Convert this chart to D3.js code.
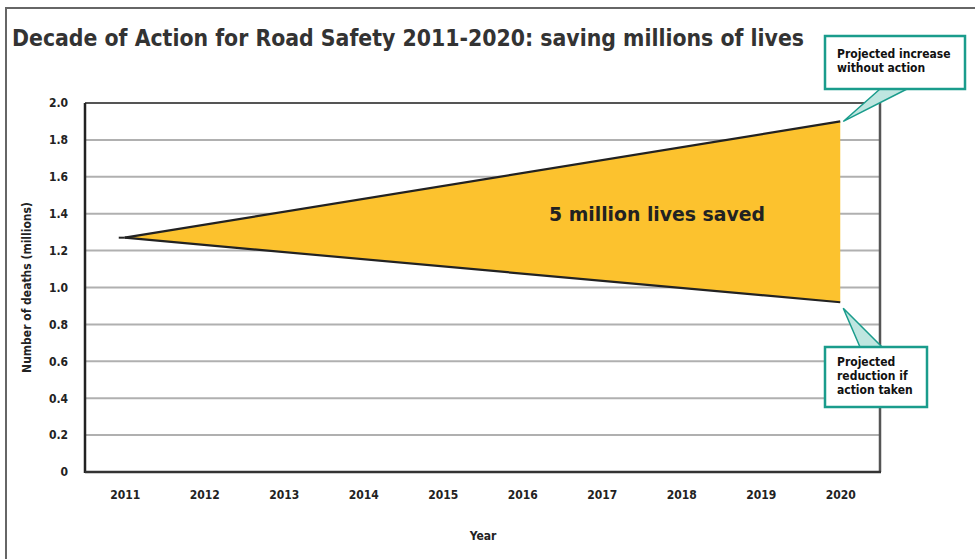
<!DOCTYPE html>
<html><head><meta charset="utf-8">
<script src="https://cdn.jsdelivr.net/npm/d3@7"></script>
<style>body{margin:0;background:#fff}svg{display:block}</style>
</head><body>
<svg id="c" width="975" height="559"></svg>
<script>
const title = "Decade of Action for Road Safety 2011-2020: saving millions of lives";
const years = ["2011","2012","2013","2014","2015","2016","2017","2018","2019","2020"];
const yTicks = [0,0.2,0.4,0.6,0.8,1.0,1.2,1.4,1.6,1.8,2.0];
const seriesYears = ["2011","2020"];
const withoutAction = [1.27, 1.90];
const withAction = [1.27, 0.92];
const annotationText = "5 million lives saved";
const calloutUp = ["Projected increase","without action"];
const calloutDown = ["Projected","reduction if","action taken"];

const svg = d3.select("#c");
const m = {l:85, r:880, t:103, b:472};
const x = d3.scalePoint().domain(years).range([m.l, m.r]).padding(0.5);
const y = d3.scaleLinear().domain([0,2]).range([m.b, m.t]);
const font = "'DejaVu Sans Condensed','DejaVu Sans',sans-serif";

// outer frame
svg.append("rect").attr("x",6).attr("y",8).attr("width",1000).attr("height",600)
  .attr("fill","none").attr("stroke","#666").attr("stroke-width",2);

svg.append("text").attr("x",12).attr("y",46).text(title)
  .attr("font-family",font).attr("font-weight","bold").attr("font-size",23)
  .attr("fill","#333").attr("textLength",792).attr("lengthAdjust","spacingAndGlyphs");

// gridlines
svg.append("g").selectAll("line").data(yTicks.filter(d=>d>0 && d<2)).join("line")
  .attr("x1",m.l).attr("x2",m.r).attr("y1",d=>y(d)).attr("y2",d=>y(d))
  .attr("stroke","#b0b0b0").attr("stroke-width",2);

// area
const pts = seriesYears.map((yr,i)=>({x:x(yr), hi:withoutAction[i], lo:withAction[i]}));
svg.append("path").datum(pts)
  .attr("d", d3.area().x(d=>d.x).y0(d=>y(d.lo)).y1(d=>y(d.hi)))
  .attr("fill","#fcc22e");
const line = d3.line().x(d=>d[0]).y(d=>d[1]);
svg.append("path").attr("d", line(pts.map(d=>[d.x,y(d.hi)]))).attr("fill","none").attr("stroke","#222").attr("stroke-width",2.2);
svg.append("path").attr("d", line(pts.map(d=>[d.x,y(d.lo)]))).attr("fill","none").attr("stroke","#222").attr("stroke-width",2.2);
svg.append("line").attr("x1",x("2011")-6).attr("x2",x("2011")).attr("y1",y(withoutAction[0])).attr("y2",y(withoutAction[0]))
  .attr("stroke","#222").attr("stroke-width",2);

// frame
svg.append("line").attr("x1",m.l).attr("x2",m.r).attr("y1",m.t).attr("y2",m.t).attr("stroke","#555").attr("stroke-width",2);
svg.append("line").attr("x1",m.r).attr("x2",m.r).attr("y1",m.t).attr("y2",m.b).attr("stroke","#555").attr("stroke-width",2.5);
svg.append("line").attr("x1",m.l).attr("x2",m.l).attr("y1",m.t).attr("y2",m.b+1).attr("stroke","#222").attr("stroke-width",2.5);
svg.append("line").attr("x1",m.l).attr("x2",m.r+1).attr("y1",m.b).attr("y2",m.b).attr("stroke","#333").attr("stroke-width",2.5);

// axes
const yAxis = d3.axisLeft(y).tickValues(yTicks).tickSize(0).tickPadding(17)
  .tickFormat(d=> d===0 ? "0" : d3.format(".1f")(d));
const gy = svg.append("g").attr("transform",`translate(${m.l},0)`).call(yAxis);
gy.select(".domain").remove();
gy.selectAll("text").attr("font-family",font).attr("font-weight","bold").attr("font-size",12).attr("fill","#222");

const xAxis = d3.axisBottom(x).tickSize(0).tickPadding(18);
const gx = svg.append("g").attr("transform",`translate(0,${m.b})`).call(xAxis);
gx.select(".domain").remove();
gx.selectAll("text").attr("font-family",font).attr("font-weight","bold").attr("font-size",12).attr("fill","#222");

svg.append("text").attr("transform",`translate(31,${(m.t+m.b)/2}) rotate(-90)`)
  .attr("text-anchor","middle").text("Number of deaths (millions)")
  .attr("font-family",font).attr("font-weight","bold").attr("font-size",12).attr("fill","#222");
svg.append("text").attr("x",483).attr("y",540).attr("text-anchor","middle").text("Year")
  .attr("font-family",font).attr("font-weight","bold").attr("font-size",12).attr("fill","#222");

svg.append("text").attr("x",657).attr("y",221).attr("text-anchor","middle").text(annotationText)
  .attr("font-family",font).attr("font-weight","bold").attr("font-size",20).attr("fill","#222")
  .attr("textLength",216).attr("lengthAdjust","spacingAndGlyphs");

// callouts
const teal = "#1a9c8c", tealFill = "#bfe6e0";
function callout(box, tip, base, lines, y0) {
  svg.append("path").attr("d", `M${base[0]},${base[1]} L${tip[0]},${tip[1]} L${base[2]},${base[1]} Z`)
    .attr("fill",tealFill).attr("stroke",teal).attr("stroke-width",1.5);
  svg.append("rect").attr("x",box[0]).attr("y",box[1]).attr("width",box[2]).attr("height",box[3])
    .attr("fill","#fff").attr("stroke",teal).attr("stroke-width",2.5);
  svg.append("text").attr("font-family",font).attr("font-weight","bold").attr("font-size",12).attr("fill","#111")
    .selectAll("tspan").data(lines).join("tspan").attr("x",box[0]+12).attr("y",(d,i)=>y0+i*14).text(d=>d);
}
callout([825,36,140,53],[x("2020")+3,y(withoutAction[1])],[880,89,907],calloutUp,58);
callout([825,347,102,60],[x("2020")+3,y(withAction[1])+6],[860,347,882],calloutDown,366);
</script>
</body></html>
